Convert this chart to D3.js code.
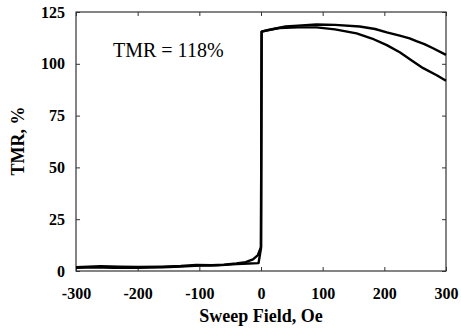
<!DOCTYPE html>
<html>
<head>
<meta charset="utf-8">
<script src="https://cdn.jsdelivr.net/npm/d3@7"></script>
<style>
  body { margin: 0; background: #fff; }
</style>
</head>
<body>
<svg id="chart" width="461" height="330"></svg>
<script>
// sweep branch going up (low state -> jump -> high state)
const fieldA = [-300, -260, -230, -200, -160, -130, -105, -80, -60, -40, -25, -13, -5, -2, 0, 1, 20, 40, 60, 90, 120, 160, 185, 204, 225, 241, 252, 265, 279, 300];
const tmrA   = [1.8, 2.3, 2.1, 1.9, 2.1, 2.4, 2.9, 2.8, 3.1, 3.6, 4.3, 5.6, 7.7, 10, 11.5, 115.5, 116.8, 118, 118.4, 119, 118.8, 118, 116.8, 115.2, 113.6, 112.3, 110.9, 109.5, 107.5, 104.3];
// sweep branch coming back down
const fieldB = [300, 285, 263, 245, 225, 204, 180, 155, 120, 90, 60, 30, 10, 1, 0, -4, -20, -40, -70, -100, -130, -160, -200, -240, -270, -300];
const tmrB   = [91.8, 94.5, 97.9, 101.5, 105.6, 109, 112.2, 114.7, 116.6, 117.6, 117.6, 117.3, 116.2, 115.5, 11, 3.8, 3.6, 3.3, 2.7, 2.6, 2.2, 1.8, 1.5, 1.6, 1.8, 1.5];

const xTicks = [-300, -200, -100, 0, 100, 200, 300];
const yTicks = [0, 25, 50, 75, 100, 125];

const serif = "'Liberation Serif', 'Times New Roman', serif";
const svg = d3.select("#chart");
const plotL = 76, plotR = 446, plotT = 12, plotB = 271;

const x = d3.scaleLinear().domain([-300, 300]).range([plotL, plotR]);
const y = d3.scaleLinear().domain([0, 125]).range([plotB, plotT]);

// inward ticks on all four sides, plain hyphen for negatives
svg.append("g")
  .attr("transform", "translate(0," + plotB + ")")
  .call(d3.axisBottom(x).tickValues(xTicks).tickFormat(d => String(d))
    .tickSizeInner(-4).tickSizeOuter(0).tickPadding(17))
  .call(g => g.select(".domain").remove())
  .selectAll("text")
  .style("font-family", serif)
  .attr("font-size", 16).attr("font-weight", "bold").attr("fill", "#000");

svg.append("g")
  .attr("transform", "translate(" + plotL + ",0)")
  .call(d3.axisLeft(y).tickValues(yTicks).tickFormat(d => String(d))
    .tickSizeInner(-4).tickSizeOuter(0).tickPadding(11))
  .call(g => g.select(".domain").remove())
  .selectAll("text")
  .style("font-family", serif)
  .attr("font-size", 16).attr("font-weight", "bold").attr("fill", "#000");

svg.append("g")
  .attr("transform", "translate(0," + plotT + ")")
  .call(d3.axisTop(x).tickValues(xTicks).tickSizeInner(-4).tickSizeOuter(0).tickFormat(""))
  .call(g => g.select(".domain").remove());

svg.append("g")
  .attr("transform", "translate(" + plotR + ",0)")
  .call(d3.axisRight(y).tickValues(yTicks).tickSizeInner(-4).tickSizeOuter(0).tickFormat(""))
  .call(g => g.select(".domain").remove());

svg.selectAll(".tick line").attr("stroke", "#333");

svg.append("rect")
  .attr("x", plotL).attr("y", plotT)
  .attr("width", plotR - plotL).attr("height", plotB - plotT)
  .attr("fill", "none").attr("stroke", "#333").attr("stroke-width", 1.2);

const line = d3.line()
  .x(d => x(d[0]))
  .y(d => y(d[1]));

svg.append("path")
  .datum(d3.zip(fieldA, tmrA))
  .attr("d", line)
  .attr("fill", "none").attr("stroke", "#000").attr("stroke-width", 2.4)
  .attr("stroke-linejoin", "round");

svg.append("path")
  .datum(d3.zip(fieldB, tmrB))
  .attr("d", line)
  .attr("fill", "none").attr("stroke", "#000").attr("stroke-width", 2.4)
  .attr("stroke-linejoin", "round");

svg.append("text")
  .attr("x", 113).attr("y", 57)
  .style("font-family", serif)
  .attr("font-size", 20).attr("fill", "#000")
  .text("TMR = 118%");

svg.append("text")
  .attr("x", (plotL + plotR) / 2).attr("y", 322)
  .attr("text-anchor", "middle")
  .style("font-family", serif)
  .attr("font-size", 18).attr("font-weight", "bold")
  .text("Sweep Field, Oe");

svg.append("text")
  .attr("transform", "translate(24,141) rotate(-90)")
  .attr("text-anchor", "middle")
  .style("font-family", serif)
  .attr("font-size", 18).attr("font-weight", "bold")
  .text("TMR, %");
</script>
</body>
</html>
